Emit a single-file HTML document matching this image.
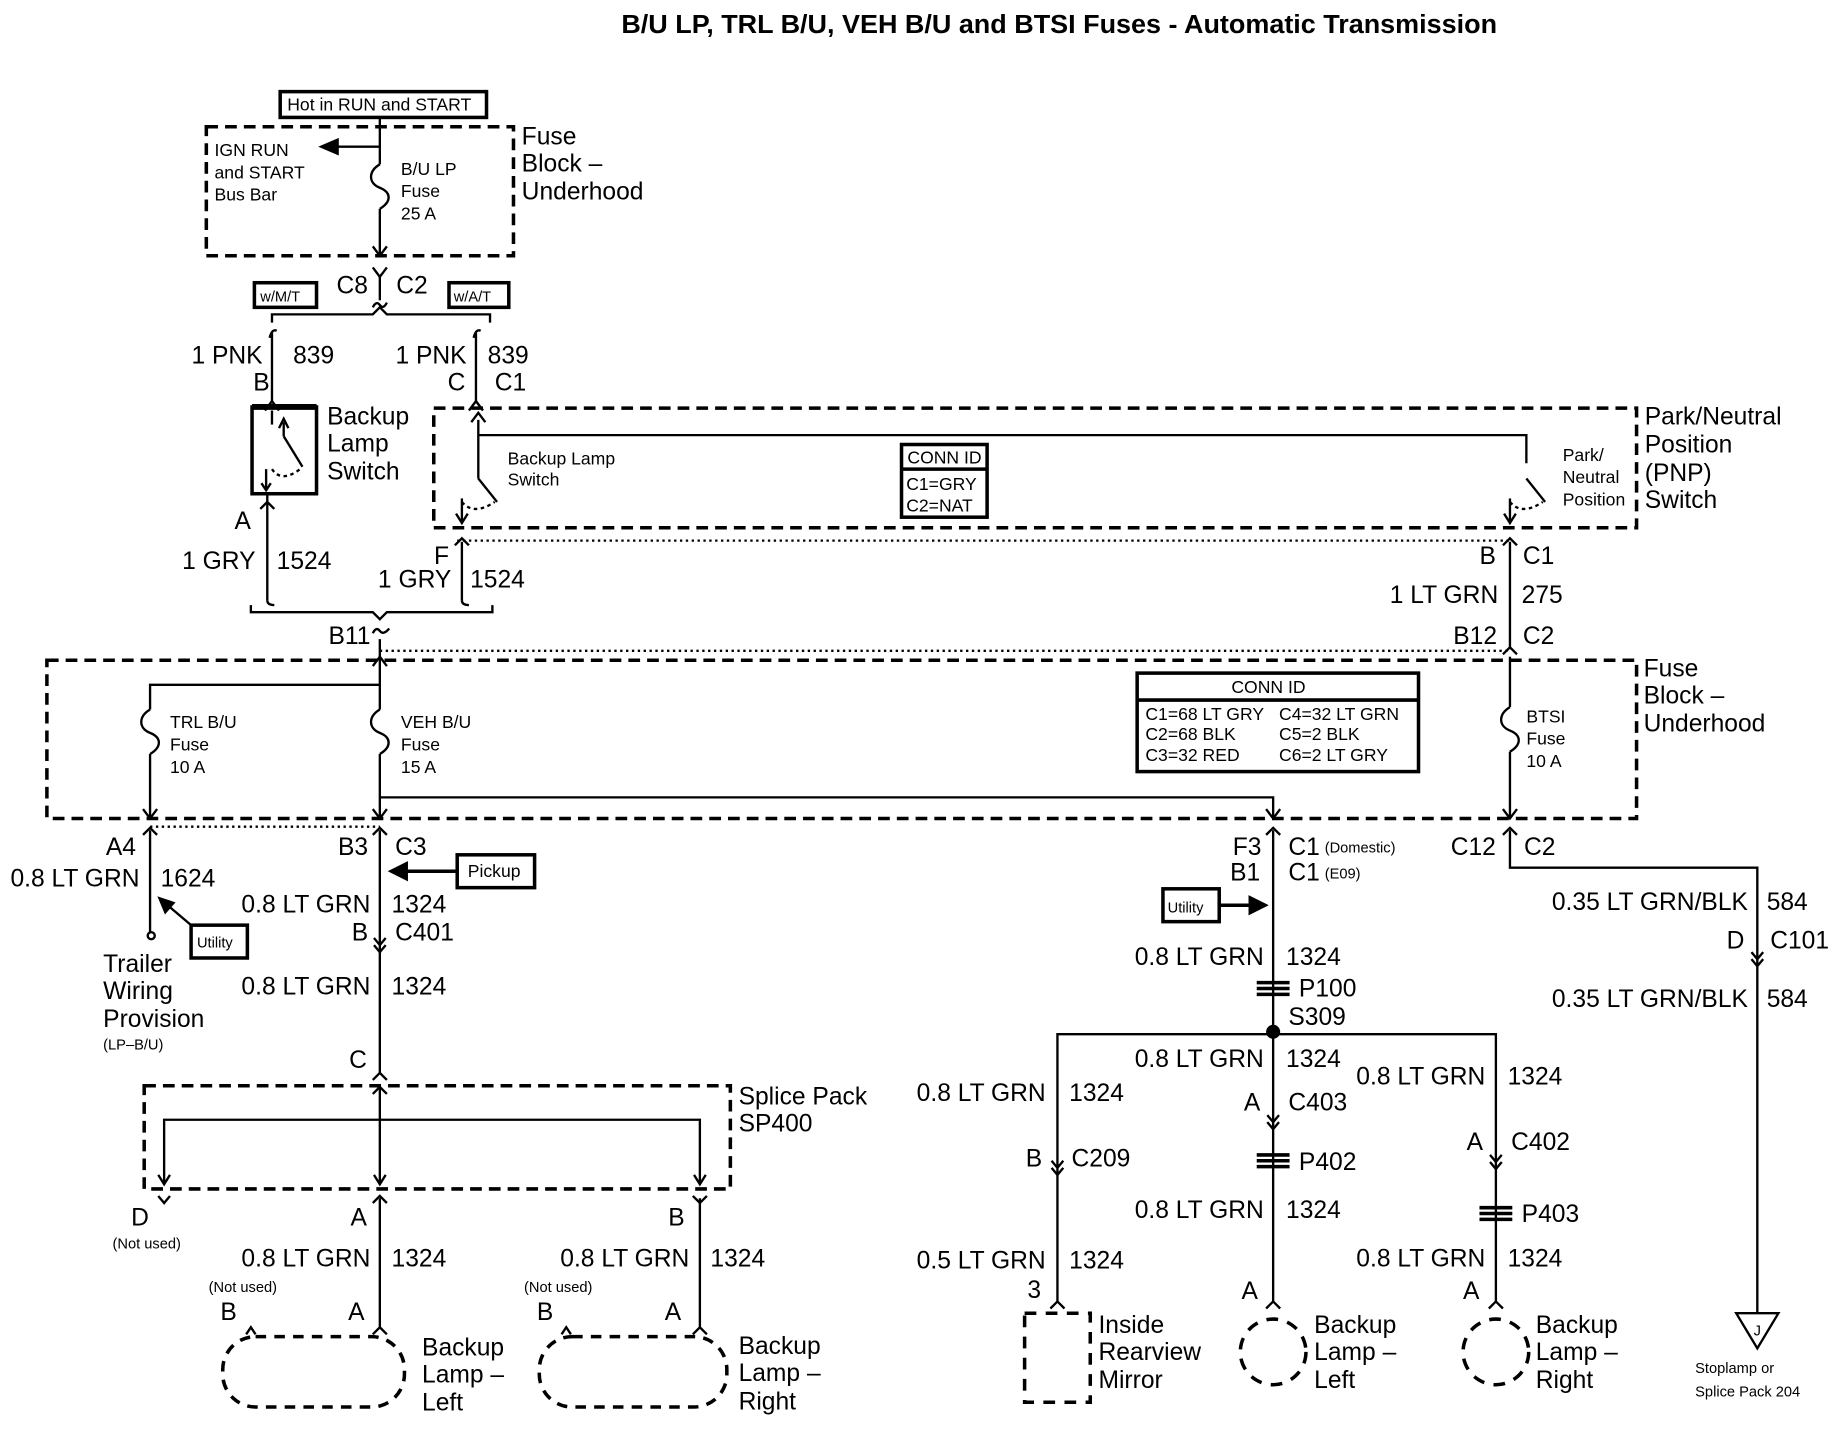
<!DOCTYPE html>
<html><head><meta charset="utf-8"><style>
html,body{margin:0;padding:0;background:#fff;}
svg{display:block;}
text{font-family:"Liberation Sans Narrow","Liberation Sans",sans-serif;fill:#000;}
.b{font-size:21px;}
.s{font-size:15px;}
.t{font-size:12.5px;}
.r{text-anchor:end;}
</style></head><body>
<svg width="1830" height="1440" viewBox="0 0 1561 1228" xmlns="http://www.w3.org/2000/svg">
<text x="530" y="28" textLength="747" lengthAdjust="spacingAndGlyphs" style="font-family:'Liberation Sans',sans-serif;font-weight:bold;font-size:22px">B/U LP, TRL B/U, VEH B/U and BTSI Fuses - Automatic Transmission</text>

<g fill="none" stroke="#000" stroke-width="2">
<rect x="239" y="78" width="176" height="22" stroke-width="3"/>
<rect x="176" y="108" width="262" height="110" stroke-width="3" stroke-dasharray="10 6"/>
<line x1="324" y1="100" x2="324" y2="140"/>
<path d="M324 140 C314 146,314 156,324 160 C334 164,334 172,324 178"/>
<line x1="324" y1="178" x2="324" y2="218"/>
<path d="M318 210 L324 218 L330 210"/>
<line x1="324" y1="125" x2="286" y2="125"/>
<path d="M274 125 L288 119 L288 131 Z" fill="#000"/>
<path d="M318 228 L324 236 L330 228"/>
<line x1="324" y1="236" x2="324" y2="256"/>
<path d="M318 262 Q321 256 324 260 Q327 264 330 258"/>
<rect x="217" y="241" width="53" height="21" stroke-width="3"/>
<rect x="383" y="241" width="51" height="21" stroke-width="3"/>
<path d="M232 275 L232 268 L318 268 L324 262 L330 268 L418 268 L418 275"/>
<path d="M230 288 Q232 280 236 282"/>
<line x1="232" y1="284" x2="232" y2="342"/>
<path d="M226 350 L232 342 L238 350"/>
<line x1="232" y1="350" x2="232" y2="362"/>
<path d="M404 288 Q406 280 410 282"/>
<line x1="406" y1="284" x2="406" y2="342"/>
<path d="M400 350 L406 342 L412 350"/>
<rect x="215" y="347" width="55" height="74" stroke-width="3"/>
<line x1="215" y1="347" x2="270" y2="347" stroke-width="5"/>
<line x1="242" y1="360" x2="242" y2="372"/>
<path d="M238 365 L242 357 L246 365"/>
<path d="M242 372 L258 398"/>
<path d="M232 400 Q240 412 256 400" stroke-dasharray="3 3"/>
<line x1="227" y1="400" x2="227" y2="418"/>
<path d="M223 412 L227 418 L231 412"/>
<line x1="228" y1="421" x2="228" y2="434"/>
<path d="M222 434 L228 428 L234 434"/>
<line x1="228" y1="434" x2="228" y2="512"/>
<path d="M228 512 Q228 516 234 516"/>
<rect x="370" y="348" width="1026" height="102" stroke-width="3" stroke-dasharray="10 6"/>
<line x1="408" y1="358" x2="408" y2="408"/>
<path d="M402 360 L408 352 L414 360"/>
<path d="M408 371 L1302 371 L1302 395"/>
<path d="M408 408 L424 428"/>
<path d="M1302 408 L1318 428"/>
<path d="M394 428 Q404 440 422 428" stroke-dasharray="3 3"/>
<path d="M1288 428 Q1298 440 1316 428" stroke-dasharray="3 3"/>
<line x1="394" y1="425" x2="394" y2="445"/>
<path d="M389 438 L394 446 L399 438"/>
<line x1="1288" y1="425" x2="1288" y2="445"/>
<path d="M1283 438 L1288 446 L1293 438"/>
<rect x="769" y="379" width="73" height="62" stroke-width="3"/>
<line x1="769" y1="400" x2="842" y2="400" stroke-width="3"/>
<line x1="390" y1="461" x2="1288" y2="461" stroke-dasharray="2 3"/>
<path d="M388 465 L394 459 L400 465"/>
<line x1="394" y1="462" x2="394" y2="512"/>
<path d="M394 512 Q394 516 400 516"/>
<path d="M214 516 L214 522 L318 522 L324 528 L330 522 L420 522 L420 516"/>
<path d="M318 540 Q321 534 324 538 Q327 542 332 536"/>
<path d="M1282 465 L1288 459 L1294 465"/>
<line x1="1288" y1="462" x2="1288" y2="552"/>
<path d="M1282 558 L1288 552 L1294 558"/>
<line x1="324" y1="555" x2="1288" y2="555" stroke-dasharray="2 3"/>
<rect x="40" y="563" width="1356" height="135" stroke-width="3" stroke-dasharray="10 6"/>
<path d="M318 568 L324 560 L330 568"/>
<line x1="324" y1="545" x2="324" y2="605"/>
<path d="M128 605 L128 584 L324 584"/>
<path d="M128 605 C118 611,118 621,128 625 C138 629,138 637,128 643"/>
<line x1="128" y1="643" x2="128" y2="698"/>
<path d="M122 690 L128 698 L134 690"/>
<path d="M324 605 C314 611,314 621,324 625 C334 629,334 637,324 643"/>
<line x1="324" y1="643" x2="324" y2="698"/>
<path d="M318 690 L324 698 L330 690"/>
<path d="M324 680 L1086 680 L1086 698"/>
<path d="M1080 690 L1086 698 L1092 690"/>
<line x1="1288" y1="560" x2="1288" y2="603"/>
<path d="M1288 603 C1278 609,1278 619,1288 623 C1298 627,1298 635,1288 641"/>
<line x1="1288" y1="641" x2="1288" y2="698"/>
<path d="M1282 690 L1288 698 L1294 690"/>
<rect x="970" y="574" width="240" height="84" stroke-width="3"/>
<line x1="970" y1="597" x2="1210" y2="597" stroke-width="3"/>
<line x1="128" y1="705" x2="324" y2="705" stroke-dasharray="2 3"/>
<path d="M122 712 L128 706 L134 712"/>
<line x1="128" y1="708" x2="128" y2="795"/>
<circle cx="129" cy="798" r="3"/>
<rect x="163" y="789" width="48" height="28" stroke-width="3"/>
<line x1="163" y1="789" x2="143" y2="772"/>
<path d="M136 766 L148 770 L141 778 Z" fill="#000"/>
<path d="M318 712 L324 706 L330 712"/>
<line x1="324" y1="708" x2="324" y2="915"/>
<rect x="390" y="729" width="66" height="28" stroke-width="3"/>
<line x1="390" y1="743" x2="346" y2="743" stroke-width="3"/>
<path d="M333 743 L347 736 L347 750 Z" fill="#000"/>
<path d="M319 800 L324 806 L329 800 M319 806 L324 812 L329 806"/>
<path d="M318 921 L324 915 L330 921"/>
<rect x="123" y="926" width="500" height="88" stroke-width="3" stroke-dasharray="10 6"/>
<path d="M318 933 L324 927 L330 933"/>
<line x1="324" y1="925" x2="324" y2="1010"/>
<path d="M140 1010 L140 955 L597 955 L597 1010"/>
<path d="M135 1002 L140 1010 L145 1002"/>
<path d="M319 1002 L324 1010 L329 1002"/>
<path d="M592 1002 L597 1010 L602 1002"/>
<path d="M135 1020 L140 1026 L145 1020"/>
<path d="M318 1026 L324 1020 L330 1026"/>
<path d="M591 1020 L597 1026 L603 1020"/>
<line x1="324" y1="1022" x2="324" y2="1132"/>
<line x1="597" y1="1022" x2="597" y2="1132"/>
<path d="M318 1138 L324 1132 L330 1138"/>
<path d="M591 1138 L597 1132 L603 1138"/>
<path d="M210 1138 L214 1132 L218 1138"/>
<path d="M479 1138 L483 1132 L487 1138"/>
<rect x="190" y="1140" width="155" height="60" rx="28" stroke-width="3" stroke-dasharray="9 7"/>
<rect x="460" y="1140" width="160" height="60" rx="28" stroke-width="3" stroke-dasharray="9 7"/>
<path d="M1080 712 L1086 706 L1092 712"/>
<line x1="1086" y1="708" x2="1086" y2="1110"/>
<rect x="992" y="758" width="48" height="28" stroke-width="3"/>
<line x1="1040" y1="772" x2="1068" y2="772" stroke-width="3"/>
<path d="M1080 772 L1066 765 L1066 779 Z" fill="#000"/>
<path d="M1072 838 h28 M1072 843 h28 M1072 848 h28" stroke-width="3"/>
<circle cx="1086" cy="880" r="5" fill="#000"/>
<path d="M902 1110 L902 882 L1276 882 L1276 1110"/>
<path d="M897 990 L902 996 L907 990 M897 996 L902 1002 L907 996"/>
<path d="M1081 951 L1086 957 L1091 951 M1081 957 L1086 963 L1091 957"/>
<path d="M1271 985 L1276 991 L1281 985 M1271 991 L1276 997 L1281 991"/>
<path d="M1072 985 h28 M1072 990 h28 M1072 995 h28" stroke-width="3"/>
<path d="M1262 1030 h28 M1262 1035 h28 M1262 1040 h28" stroke-width="3"/>
<path d="M896 1116 L902 1110 L908 1116"/>
<path d="M1080 1116 L1086 1110 L1092 1116"/>
<path d="M1270 1116 L1276 1110 L1282 1116"/>
<rect x="874" y="1120" width="56" height="76" stroke-width="3" stroke-dasharray="10 8"/>
<circle cx="1086" cy="1153" r="28" stroke-width="3" stroke-dasharray="10 8"/>
<circle cx="1276" cy="1153" r="28" stroke-width="3" stroke-dasharray="10 8"/>
<path d="M1282 712 L1288 706 L1294 712"/>
<path d="M1288 708 L1288 740 L1499 740 L1499 1120"/>
<path d="M1494 812 L1499 818 L1504 812 M1494 818 L1499 824 L1504 818"/>
<path d="M1481 1120 L1517 1120 L1499 1150 Z"/>
</g>

<text x="245" y="94" class="s">Hot in RUN and START</text>
<text x="445" y="123" class="b">Fuse</text><text x="445" y="146" class="b">Block –</text><text x="445" y="170" class="b">Underhood</text>
<text x="183" y="133" class="s">IGN RUN</text><text x="183" y="152" class="s">and START</text><text x="183" y="171" class="s">Bus Bar</text>
<text x="342" y="149" class="s">B/U LP</text><text x="342" y="168" class="s">Fuse</text><text x="342" y="187" class="s">25 A</text>
<text x="287" y="250" class="b">C8</text><text x="338" y="250" class="b">C2</text>
<text x="222" y="257" class="t">w/M/T</text><text x="387" y="257" class="t">w/A/T</text>
<text x="224" y="310" class="b r">1 PNK</text><text x="250" y="310" class="b">839</text>
<text x="230" y="333" class="b r">B</text>
<text x="398" y="310" class="b r">1 PNK</text><text x="416" y="310" class="b">839</text>
<text x="397" y="333" class="b r">C</text><text x="422" y="333" class="b">C1</text>
<text x="279" y="362" class="b">Backup</text><text x="279" y="385" class="b">Lamp</text><text x="279" y="409" class="b">Switch</text>
<text x="433" y="396" class="s">Backup Lamp</text><text x="433" y="414" class="s">Switch</text>
<text x="774" y="395" class="s">CONN ID</text><text x="773" y="418" class="s">C1=GRY</text><text x="773" y="436" class="s">C2=NAT</text>
<text x="1333" y="393" class="s">Park/</text><text x="1333" y="412" class="s">Neutral</text><text x="1333" y="431" class="s">Position</text>
<text x="1403" y="362" class="b">Park/Neutral</text><text x="1403" y="386" class="b">Position</text><text x="1403" y="410" class="b">(PNP)</text><text x="1403" y="433" class="b">Switch</text>
<text x="214" y="451" class="b r">A</text>
<text x="218" y="485" class="b r">1 GRY</text><text x="236" y="485" class="b">1524</text>
<text x="383" y="481" class="b r">F</text>
<text x="385" y="501" class="b r">1 GRY</text><text x="401" y="501" class="b">1524</text>
<text x="1276" y="481" class="b r">B</text><text x="1299" y="481" class="b">C1</text>
<text x="1278" y="514" class="b r">1 LT GRN</text><text x="1298" y="514" class="b">275</text>
<text x="316" y="549" class="b r">B11</text>
<text x="1277" y="549" class="b r">B12</text><text x="1299" y="549" class="b">C2</text>
<text x="1402" y="577" class="b">Fuse</text><text x="1402" y="600" class="b">Block –</text><text x="1402" y="624" class="b">Underhood</text>
<text x="145" y="621" class="s">TRL B/U</text><text x="145" y="640" class="s">Fuse</text><text x="145" y="659" class="s">10 A</text>
<text x="342" y="621" class="s">VEH B/U</text><text x="342" y="640" class="s">Fuse</text><text x="342" y="659" class="s">15 A</text>
<text x="1302" y="616" class="s">BTSI</text><text x="1302" y="635" class="s">Fuse</text><text x="1302" y="654" class="s">10 A</text>
<text x="1082" y="591" class="s" text-anchor="middle">CONN ID</text>
<text x="977" y="614" class="s">C1=68 LT GRY</text><text x="1091" y="614" class="s">C4=32 LT GRN</text>
<text x="977" y="631" class="s">C2=68 BLK</text><text x="1091" y="631" class="s">C5=2 BLK</text>
<text x="977" y="649" class="s">C3=32 RED</text><text x="1091" y="649" class="s">C6=2 LT GRY</text>
<text x="116" y="729" class="b r">A4</text>
<text x="119" y="756" class="b r">0.8 LT GRN</text><text x="137" y="756" class="b">1624</text>
<text x="168" y="808" class="t">Utility</text>
<text x="88" y="829" class="b">Trailer</text><text x="88" y="852" class="b">Wiring</text><text x="88" y="876" class="b">Provision</text>
<text x="88" y="895" class="t">(LP–B/U)</text>
<text x="314" y="729" class="b r">B3</text><text x="337" y="729" class="b">C3</text>
<text x="399" y="748" class="s">Pickup</text>
<text x="316" y="778" class="b r">0.8 LT GRN</text><text x="334" y="778" class="b">1324</text>
<text x="314" y="802" class="b r">B</text><text x="337" y="802" class="b">C401</text>
<text x="316" y="848" class="b r">0.8 LT GRN</text><text x="334" y="848" class="b">1324</text>
<text x="313" y="911" class="b r">C</text>
<text x="630" y="942" class="b">Splice Pack</text><text x="630" y="965" class="b">SP400</text>
<text x="127" y="1045" class="b r">D</text><text x="96" y="1065" class="t">(Not used)</text>
<text x="313" y="1045" class="b r">A</text><text x="584" y="1045" class="b r">B</text>
<text x="316" y="1080" class="b r">0.8 LT GRN</text><text x="334" y="1080" class="b">1324</text>
<text x="588" y="1080" class="b r">0.8 LT GRN</text><text x="606" y="1080" class="b">1324</text>
<text x="178" y="1102" class="t">(Not used)</text><text x="447" y="1102" class="t">(Not used)</text>
<text x="188" y="1126" class="b">B</text><text x="297" y="1126" class="b">A</text>
<text x="458" y="1126" class="b">B</text><text x="567" y="1126" class="b">A</text>
<text x="360" y="1156" class="b">Backup</text><text x="360" y="1179" class="b">Lamp –</text><text x="360" y="1203" class="b">Left</text>
<text x="630" y="1155" class="b">Backup</text><text x="630" y="1178" class="b">Lamp –</text><text x="630" y="1202" class="b">Right</text>
<text x="1076" y="729" class="b r">F3</text><text x="1099" y="729" class="b">C1</text><text x="1130" y="727" class="t">(Domestic)</text>
<text x="1075" y="751" class="b r">B1</text><text x="1099" y="751" class="b">C1</text><text x="1130" y="749" class="t">(E09)</text>
<text x="996" y="778" class="t">Utility</text>
<text x="1078" y="823" class="b r">0.8 LT GRN</text><text x="1097" y="823" class="b">1324</text>
<text x="1108" y="850" class="b">P100</text><text x="1099" y="874" class="b">S309</text>
<text x="1078" y="910" class="b r">0.8 LT GRN</text><text x="1097" y="910" class="b">1324</text>
<text x="1267" y="925" class="b r">0.8 LT GRN</text><text x="1286" y="925" class="b">1324</text>
<text x="892" y="939" class="b r">0.8 LT GRN</text><text x="912" y="939" class="b">1324</text>
<text x="1075" y="947" class="b r">A</text><text x="1099" y="947" class="b">C403</text>
<text x="1265" y="981" class="b r">A</text><text x="1289" y="981" class="b">C402</text>
<text x="889" y="995" class="b r">B</text><text x="914" y="995" class="b">C209</text>
<text x="1108" y="998" class="b">P402</text>
<text x="1078" y="1039" class="b r">0.8 LT GRN</text><text x="1097" y="1039" class="b">1324</text>
<text x="1298" y="1042" class="b">P403</text>
<text x="1267" y="1080" class="b r">0.8 LT GRN</text><text x="1286" y="1080" class="b">1324</text>
<text x="892" y="1082" class="b r">0.5 LT GRN</text><text x="912" y="1082" class="b">1324</text>
<text x="888" y="1107" class="b r">3</text>
<text x="1073" y="1108" class="b r">A</text><text x="1262" y="1108" class="b r">A</text>
<text x="937" y="1137" class="b">Inside</text><text x="937" y="1160" class="b">Rearview</text><text x="937" y="1184" class="b">Mirror</text>
<text x="1121" y="1137" class="b">Backup</text><text x="1121" y="1160" class="b">Lamp –</text><text x="1121" y="1184" class="b">Left</text>
<text x="1310" y="1137" class="b">Backup</text><text x="1310" y="1160" class="b">Lamp –</text><text x="1310" y="1184" class="b">Right</text>
<text x="1276" y="729" class="b r">C12</text><text x="1300" y="729" class="b">C2</text>
<text x="1491" y="776" class="b r">0.35 LT GRN/BLK</text><text x="1507" y="776" class="b">584</text>
<text x="1488" y="809" class="b r">D</text><text x="1510" y="809" class="b">C101</text>
<text x="1491" y="859" class="b r">0.35 LT GRN/BLK</text><text x="1507" y="859" class="b">584</text>
<text x="1499" y="1139" class="t" text-anchor="middle">J</text>
<text x="1446" y="1171" class="t">Stoplamp or</text><text x="1446" y="1191" class="t">Splice Pack 204</text>
</svg>
</body></html>
